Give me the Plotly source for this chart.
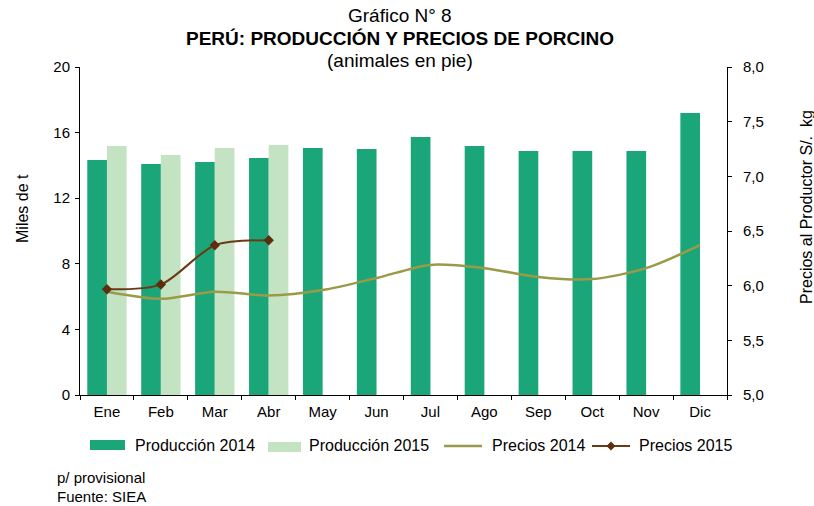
import plotly.graph_objects as go

months = ["Ene", "Feb", "Mar", "Abr", "May", "Jun", "Jul", "Ago", "Sep", "Oct", "Nov", "Dic"]
prod_2014 = [14.33, 14.09, 14.2, 14.45, 15.06, 15.0, 15.73, 15.18, 14.88, 14.88, 14.88, 17.2]
prod_2015 = [15.18, 14.63, 15.06, 15.24, None, None, None, None, None, None, None, None]
precio_2014 = [5.945, 5.88, 5.945, 5.91, 5.96, 6.07, 6.19, 6.16, 6.08, 6.06, 6.16, 6.37]
precio_2015 = [5.967, 6.01, 6.37, 6.415, None, None, None, None, None, None, None, None]
left_ticks = [0, 4, 8, 12, 16, 20]
right_ticks = [5.0, 5.5, 6.0, 6.5, 7.0, 7.5, 8.0]
right_labels = ["5,0", "5,5", "6,0", "6,5", "7,0", "7,5", "8,0"]

FONT = "Liberation Sans, Arial, sans-serif"
C_P14 = "#1BA67A"
C_P15 = "#C4E3C3"
C_PR14 = "#9A9A48"
C_PR15 = "#6B3A14"

L, R, T, B = 80, 727, 67, 395
W, H = R - L, B - T


def px(x):
    return (x - L) / W


def py(y):
    return (B - y) / H


fig = go.Figure()
fig.add_trace(go.Bar(x=months, y=prod_2014, name="Producción 2014", marker_color=C_P14, marker_line_width=0))
fig.add_trace(go.Bar(x=months, y=prod_2015, name="Producción 2015", marker_color=C_P15, marker_line_width=0))
fig.add_trace(go.Scatter(x=months, y=precio_2014, name="Precios 2014", yaxis="y2", mode="lines",
                         line=dict(color=C_PR14, width=2.5, shape="spline", smoothing=0.8)))
fig.add_trace(go.Scatter(x=months, y=precio_2015, name="Precios 2015", yaxis="y2", mode="lines+markers",
                         line=dict(color=C_PR15, width=2, shape="spline", smoothing=0.8),
                         marker=dict(symbol="diamond", size=8, color="#5C2E0E")))

axis_common = dict(showline=True, linecolor="black", linewidth=1, ticks="outside", ticklen=4,
                   tickcolor="black", showgrid=False, zeroline=False, automargin=False,
                   tickfont=dict(size=15))

fig.update_layout(
    width=814, height=506,
    margin=dict(l=L, r=814 - R, t=T, b=506 - B),
    paper_bgcolor="white", plot_bgcolor="white",
    font=dict(family=FONT, size=15, color="black"),
    barmode="group", bargap=0.27, bargroupgap=0,
    showlegend=False,
    xaxis=dict(axis_common, tickson="boundaries", range=[-0.5, 11.5], ticklabelstandoff=3),
    yaxis=dict(axis_common, range=[0, 20], tickvals=left_ticks, ticklabelstandoff=2),
    yaxis2=dict(axis_common, range=[5, 8], tickvals=right_ticks, ticktext=right_labels,
                overlaying="y", side="right", ticklabelstandoff=8),
    # inner halves of the crossing tick marks
    yaxis3=dict(range=[0, 20], tickvals=left_ticks, overlaying="y", side="left", ticks="inside",
                ticklen=4, tickcolor="black", showticklabels=False, showgrid=False, zeroline=False,
                showline=False, automargin=False),
    yaxis4=dict(range=[5, 8], tickvals=right_ticks, overlaying="y", side="right", ticks="inside",
                ticklen=4, tickcolor="black", showticklabels=False, showgrid=False, zeroline=False,
                showline=False, automargin=False),
    xaxis2=dict(range=[-0.5, 11.5], tickvals=[i - 0.5 for i in range(13)], overlaying="x",
                side="bottom", ticks="inside", ticklen=3, tickcolor="black", showticklabels=False,
                showgrid=False, zeroline=False, showline=False, automargin=False),
)

# Titles
for txt, yy in [("Gráfico N° 8", 15), ("<b>PERÚ: PRODUCCIÓN Y PRECIOS DE PORCINO</b>", 38),
                ("(animales en pie)", 60)]:
    fig.add_annotation(text=txt, xref="paper", yref="paper", x=px(400), y=py(yy),
                       xanchor="center", yanchor="middle", showarrow=False, font=dict(size=19))

# Axis titles
fig.add_annotation(text="Miles de t", xref="paper", yref="paper", x=px(22), y=py(209),
                   xanchor="center", yanchor="middle", textangle=-90, showarrow=False,
                   font=dict(size=16))
fig.add_annotation(text="Precios al Productor S/.  kg", xref="paper", yref="paper", x=px(806), y=py(207),
                   xanchor="center", yanchor="middle", textangle=-90, showarrow=False,
                   font=dict(size=16))

# Custom legend
ly = 445
fig.add_shape(type="rect", xref="paper", yref="paper", x0=px(90), x1=px(125), y0=py(450), y1=py(440),
              fillcolor=C_P14, line_width=0)
fig.add_shape(type="rect", xref="paper", yref="paper", x0=px(268), x1=px(301), y0=py(452), y1=py(442),
              fillcolor=C_P15, line_width=0)
fig.add_shape(type="line", xref="paper", yref="paper", x0=px(444), x1=px(482), y0=py(446), y1=py(446),
              line=dict(color=C_PR14, width=2.5))
fig.add_shape(type="line", xref="paper", yref="paper", x0=px(592), x1=px(630), y0=py(446), y1=py(446),
              line=dict(color=C_PR15, width=2))
dx, dy = 4.5, 4.5
cx, cy = 611, 446
fig.add_shape(type="path", xref="paper", yref="paper",
              path=f"M {px(cx - dx)},{py(cy)} L {px(cx)},{py(cy - dy)} L {px(cx + dx)},{py(cy)} "
                   f"L {px(cx)},{py(cy + dy)} Z",
              fillcolor="#5C2E0E", line_width=0)
for label, x0 in [("Producción 2014", 133), ("Producción 2015", 307), ("Precios 2014", 490),
                  ("Precios 2015", 637)]:
    fig.add_annotation(text=label, xref="paper", yref="paper", x=px(x0), y=py(ly), xanchor="left",
                       yanchor="middle", showarrow=False, font=dict(size=16))

# Footnotes
fig.add_annotation(text="p/ provisional", xref="paper", yref="paper", x=px(55), y=py(478),
                   xanchor="left", yanchor="middle", showarrow=False, font=dict(size=15))
fig.add_annotation(text="Fuente: SIEA", xref="paper", yref="paper", x=px(55), y=py(496),
                   xanchor="left", yanchor="middle", showarrow=False, font=dict(size=15))

fig.write_html("out.html", config={"displayModeBar": False},
               post_script="document.body.style.margin='0px';document.body.style.overflow='hidden';")
